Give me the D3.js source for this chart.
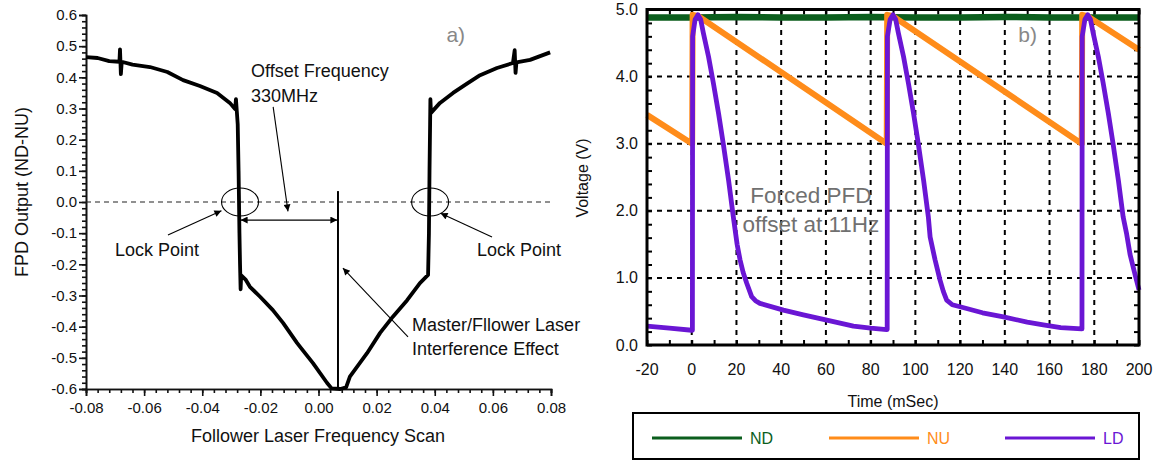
<!DOCTYPE html>
<html><head><meta charset="utf-8">
<script src="https://cdn.jsdelivr.net/npm/d3@7"></script>
<style>
html,body{margin:0;padding:0;background:#fff;}
svg{display:block;font-family:"Liberation Sans",Arial,Helvetica,sans-serif;}
</style></head>
<body>
<svg id="c" width="1163" height="461"></svg>
<script>
// ---------- Left chart data (a) ----------
const scanX = [-0.080,-0.076,-0.072,-0.0685,-0.0683,-0.0680,-0.0677,-0.064,-0.058,-0.052,-0.0466,-0.0408,-0.0349,-0.0305,-0.0287,-0.0284,-0.0281,-0.0278,-0.0275,-0.0272,-0.0270,-0.0268,-0.0266,-0.0250,-0.0236,-0.0201,-0.0157,-0.0122,-0.0074,-0.0064,-0.0019,0.0029,0.0045,0.0075,0.0095,0.0108,0.0167,0.0212,0.0256,0.0305,0.0349,0.0377,0.0380,0.0382,0.0384,0.0385,0.0387,0.0418,0.0463,0.0511,0.0556,0.0614,0.0669,0.0675,0.0678,0.0681,0.0728,0.0797];
const scanY = [0.465,0.462,0.452,0.450,0.490,0.410,0.450,0.441,0.433,0.417,0.391,0.372,0.350,0.318,0.298,0.330,0.290,0.250,0.100,-0.100,-0.200,-0.280,-0.235,-0.250,-0.272,-0.304,-0.347,-0.388,-0.452,-0.464,-0.517,-0.580,-0.598,-0.600,-0.595,-0.560,-0.485,-0.420,-0.368,-0.315,-0.260,-0.234,-0.100,0.100,0.250,0.330,0.286,0.318,0.350,0.380,0.407,0.430,0.446,0.487,0.414,0.448,0.456,0.480];
const beatX = [0.0067,0.0067];
const beatY = [-0.600,0.035];
const aXTicks = [-0.08,-0.06,-0.04,-0.02,0.00,0.02,0.04,0.06,0.08];
const aYTicks = [-0.6,-0.5,-0.4,-0.3,-0.2,-0.1,0.0,0.1,0.2,0.3,0.4,0.5,0.6];

// ---------- Right chart data (b) ----------
const ndT = [-20,0,20,40,60,80,100,120,140,160,180,200];
const ndV = [4.88,4.88,4.89,4.88,4.88,4.89,4.88,4.88,4.89,4.88,4.88,4.88];
const nuT = [-20,0.2,0.4,3,87.2,87.4,90,174.4,174.6,177,200];
const nuV = [3.43,3.00,4.92,4.90,3.00,4.92,4.90,3.00,4.92,4.90,4.40];
const ldT = [-20,-10,0,0.3,0.4,1.5,2.8,4,5.2,7.5,9.7,12,14.1,16.5,18.6,20.3,21.6,23,24.6,26.8,28.5,30.5,41,49.9,60.4,72.3,80,87.2,
  87.4,87.5,88.7,90,91.2,92.4,94.7,96.9,99.2,101.3,103.7,105.8,106.6,108.8,111,112.5,114,116.5,120,130,139.4,150,157.2,165,174.4,
  174.5,174.6,175.8,177.1,178.3,179.5,181.8,184,186.3,188.4,190.8,192.9,194.5,196,198,200];
const ldV = [0.28,0.25,0.22,0.22,4.60,4.85,4.92,4.85,4.65,4.30,3.90,3.45,3.00,2.45,1.91,1.50,1.27,1.08,0.92,0.72,0.66,0.62,0.52,0.45,0.37,0.28,0.25,0.23,
  0.23,4.60,4.85,4.92,4.85,4.65,4.30,3.90,3.45,3.00,2.45,1.91,1.61,1.27,0.97,0.80,0.67,0.60,0.57,0.48,0.42,0.34,0.30,0.26,0.24,
  0.24,4.60,4.85,4.92,4.85,4.65,4.30,3.90,3.45,3.00,2.45,1.91,1.65,1.35,1.08,0.82];
const bXTicks = [-20,0,20,40,60,80,100,120,140,160,180,200];
const bYTicks = [0,1,2,3,4,5];
const seriesNames = ["ND","NU","LD"];
const seriesColors = ["#0b5e1d","#ff8c1a","#6a16d4"];

const svg = d3.select("#c");
const F = '"Liberation Sans",Arial,Helvetica,sans-serif';

// ===== Chart a =====
const xA = d3.scaleLinear().domain([-0.08,0.08]).range([86,551]);
const yA = d3.scaleLinear().domain([-0.6,0.6]).range([389,15]);
const gA = svg.append("g");

const axXminor = d3.axisBottom(xA).tickValues(d3.range(-0.08,0.0801,0.004)).tickSize(4).tickFormat("");
const axYminor = d3.axisLeft(yA).tickValues(d3.range(-0.6,0.6001,0.02)).tickSize(4).tickFormat("");
gA.append("g").attr("transform","translate(0,389)").call(axXminor);
gA.append("g").attr("transform","translate(86,0)").call(axYminor);
const axX = d3.axisBottom(xA).tickValues(aXTicks).tickSize(7).tickPadding(6).tickFormat(d=>d.toFixed(2));
const axY = d3.axisLeft(yA).tickValues(aYTicks).tickSize(7).tickPadding(2).tickFormat(d=>d.toFixed(1));
gA.append("g").attr("transform","translate(0,389)").call(axX);
gA.append("g").attr("transform","translate(86,0)").call(axY);
gA.selectAll(".domain,.tick line").attr("stroke","#111").attr("stroke-width",1.6);
gA.selectAll(".tick text").attr("font-size",15).attr("font-family",F).attr("fill","#111");

gA.append("line").attr("x1",xA(-0.08)).attr("x2",xA(0.08)).attr("y1",yA(0)).attr("y2",yA(0))
  .attr("stroke","#222").attr("stroke-width",1.2).attr("stroke-dasharray","5,4");

const lineA = d3.line().x(d=>xA(d[0])).y(d=>yA(d[1]));
gA.append("path").datum(d3.zip(scanX,scanY)).attr("d",lineA).attr("fill","none")
  .attr("stroke","#000").attr("stroke-width",3.8).attr("stroke-linejoin","round");
gA.append("path").datum(d3.zip(beatX,beatY)).attr("d",lineA).attr("fill","none")
  .attr("stroke","#000").attr("stroke-width",2);

const defs = svg.append("defs");
defs.append("marker").attr("id","ah").attr("viewBox","0 0 10 10").attr("refX",10).attr("refY",5)
  .attr("markerWidth",9).attr("markerHeight",7).attr("markerUnits","userSpaceOnUse").attr("orient","auto-start-reverse")
  .append("path").attr("d","M0,0 L10,5 L0,10 Z").attr("fill","#000");

function arrow(x1,y1,x2,y2,both){
  const l = gA.append("line").attr("x1",xA(x1)).attr("y1",yA(y1)).attr("x2",xA(x2)).attr("y2",yA(y2))
    .attr("stroke","#000").attr("stroke-width",1.1).attr("marker-end","url(#ah)");
  if(both) l.attr("marker-start","url(#ah)");
}
function label(x,y,txt,size,col){
  gA.append("text").attr("x",xA(x)).attr("y",yA(y)).text(txt).attr("font-size",size||18)
    .attr("font-family",F).attr("fill",col||"#111");
}
[[-0.0270,0.0],[0.0384,0.0]].forEach(p=>{
  gA.append("ellipse").attr("cx",xA(p[0])).attr("cy",yA(p[1])).attr("rx",18.5).attr("ry",14)
    .attr("fill","none").attr("stroke","#000").attr("stroke-width",1.1);
});
label(-0.0232,0.400,"Offset Frequency");
label(-0.0232,0.320,"330MHz");
arrow(-0.0156,0.305,-0.0105,-0.030);
arrow(-0.0268,-0.058,0.0065,-0.058,true);
label(-0.0700,-0.173,"Lock Point");
arrow(-0.0518,-0.106,-0.0334,-0.028);
label(0.0545,-0.173,"Lock Point");
arrow(0.0597,-0.112,0.0420,-0.036);
label(0.0322,-0.415,"Master/Fllower Laser");
label(0.0322,-0.490,"Interference Effect");
arrow(0.0308,-0.433,0.0084,-0.212);
label(0.0440,0.513,"a)",21,"#888");

gA.append("text").attr("x",318).attr("y",442).attr("text-anchor","middle").attr("font-size",18)
  .attr("font-family",F).attr("fill","#111").text("Follower Laser Frequency Scan");
gA.append("text").attr("transform","translate(28,192) rotate(-90)").attr("text-anchor","middle")
  .attr("font-size",18).attr("font-family",F).attr("fill","#111").text("FPD Output (ND-NU)");

// ===== Chart b =====
const xB = d3.scaleLinear().domain([-20,200]).range([647,1139]);
const yB = d3.scaleLinear().domain([0,5]).range([345,9.5]);
const gB = svg.append("g");

gB.selectAll(".gx").data(bXTicks.slice(1,-1)).enter().append("line")
  .attr("x1",d=>xB(d)).attr("x2",d=>xB(d)).attr("y1",yB(0)).attr("y2",yB(5))
  .attr("stroke","#000").attr("stroke-width",2).attr("stroke-dasharray","5,5");
gB.selectAll(".gy").data(bYTicks.slice(1,-1)).enter().append("line")
  .attr("y1",d=>yB(d)).attr("y2",d=>yB(d)).attr("x1",xB(-20)).attr("x2",xB(200))
  .attr("stroke","#000").attr("stroke-width",2).attr("stroke-dasharray","5,5");

const tk = gB.append("g");
tk.append("g").attr("transform","translate(0,345)").call(d3.axisTop(xB).tickValues(d3.range(-20,200.1,10)).tickSize(5).tickFormat(""));
tk.append("g").attr("transform","translate(0,9.5)").call(d3.axisBottom(xB).tickValues(d3.range(-20,200.1,10)).tickSize(5).tickFormat(""));
tk.append("g").attr("transform","translate(647,0)").call(d3.axisRight(yB).tickValues(d3.range(0,5.01,0.2)).tickSize(5).tickFormat(""));
tk.append("g").attr("transform","translate(1139,0)").call(d3.axisLeft(yB).tickValues(d3.range(0,5.01,0.2)).tickSize(5).tickFormat(""));
tk.selectAll(".domain").remove();
tk.selectAll(".tick line").attr("stroke","#000").attr("stroke-width",2);

const lineB = d3.line().x(d=>xB(d[0])).y(d=>yB(d[1]));
const seriesData = [d3.zip(ndT,ndV), d3.zip(nuT,nuV), d3.zip(ldT,ldV)];
const widths = [6.5,6,4.8];
seriesData.forEach((s,i)=>{
  gB.append("path").datum(s).attr("d",lineB).attr("fill","none").attr("stroke",seriesColors[i])
    .attr("stroke-width",widths[i]).attr("stroke-linejoin","round");
});

gB.append("rect").attr("x",647).attr("y",9.5).attr("width",1139-647).attr("height",345-9.5)
  .attr("fill","none").attr("stroke","#000").attr("stroke-width",3);

gB.selectAll(".xl").data(bXTicks).enter().append("text").attr("x",d=>xB(d)).attr("y",375)
  .attr("text-anchor","middle").attr("font-size",16).attr("font-family",F).attr("fill","#111")
  .text(d=>String(d));
gB.selectAll(".yl").data(bYTicks).enter().append("text").attr("x",638).attr("y",d=>yB(d)+5.5)
  .attr("text-anchor","end").attr("font-size",16).attr("font-family",F).attr("fill","#111")
  .text(d=>d.toFixed(1));

gB.append("text").attr("x",893).attr("y",407).attr("text-anchor","middle").attr("font-size",16)
  .attr("font-family",F).attr("fill","#111").text("Time (mSec)");
gB.append("text").attr("transform","translate(588,178) rotate(-90)").attr("text-anchor","middle")
  .attr("font-size",16).attr("font-family",F).attr("fill","#111").text("Voltage (V)");

gB.append("text").attr("x",xB(53.3)).attr("y",yB(2.11)).attr("text-anchor","middle").attr("font-size",22.5)
  .attr("font-family",F).attr("fill","#707070").text("Forced PFD");
gB.append("text").attr("x",xB(53.3)).attr("y",yB(1.68)).attr("text-anchor","middle").attr("font-size",22.5)
  .attr("font-family",F).attr("fill","#707070").text("offset at 11Hz");
gB.append("text").attr("x",xB(146)).attr("y",yB(4.51)).attr("font-size",21)
  .attr("font-family",F).attr("fill","#888").text("b)");

const lg = svg.append("g");
lg.append("rect").attr("x",633).attr("y",413).attr("width",506).attr("height",46)
  .attr("fill","#fff").attr("stroke","#000").attr("stroke-width",2);
const legX = [652,829,1005];
seriesNames.forEach((n,i)=>{
  lg.append("line").attr("x1",legX[i]).attr("x2",legX[i]+90).attr("y1",438).attr("y2",438)
    .attr("stroke",seriesColors[i]).attr("stroke-width",3);
  lg.append("text").attr("x",legX[i]+98).attr("y",443.5).attr("font-size",16).attr("font-family",F)
    .attr("fill",seriesColors[i]).text(n);
});
</script>
</body></html>
